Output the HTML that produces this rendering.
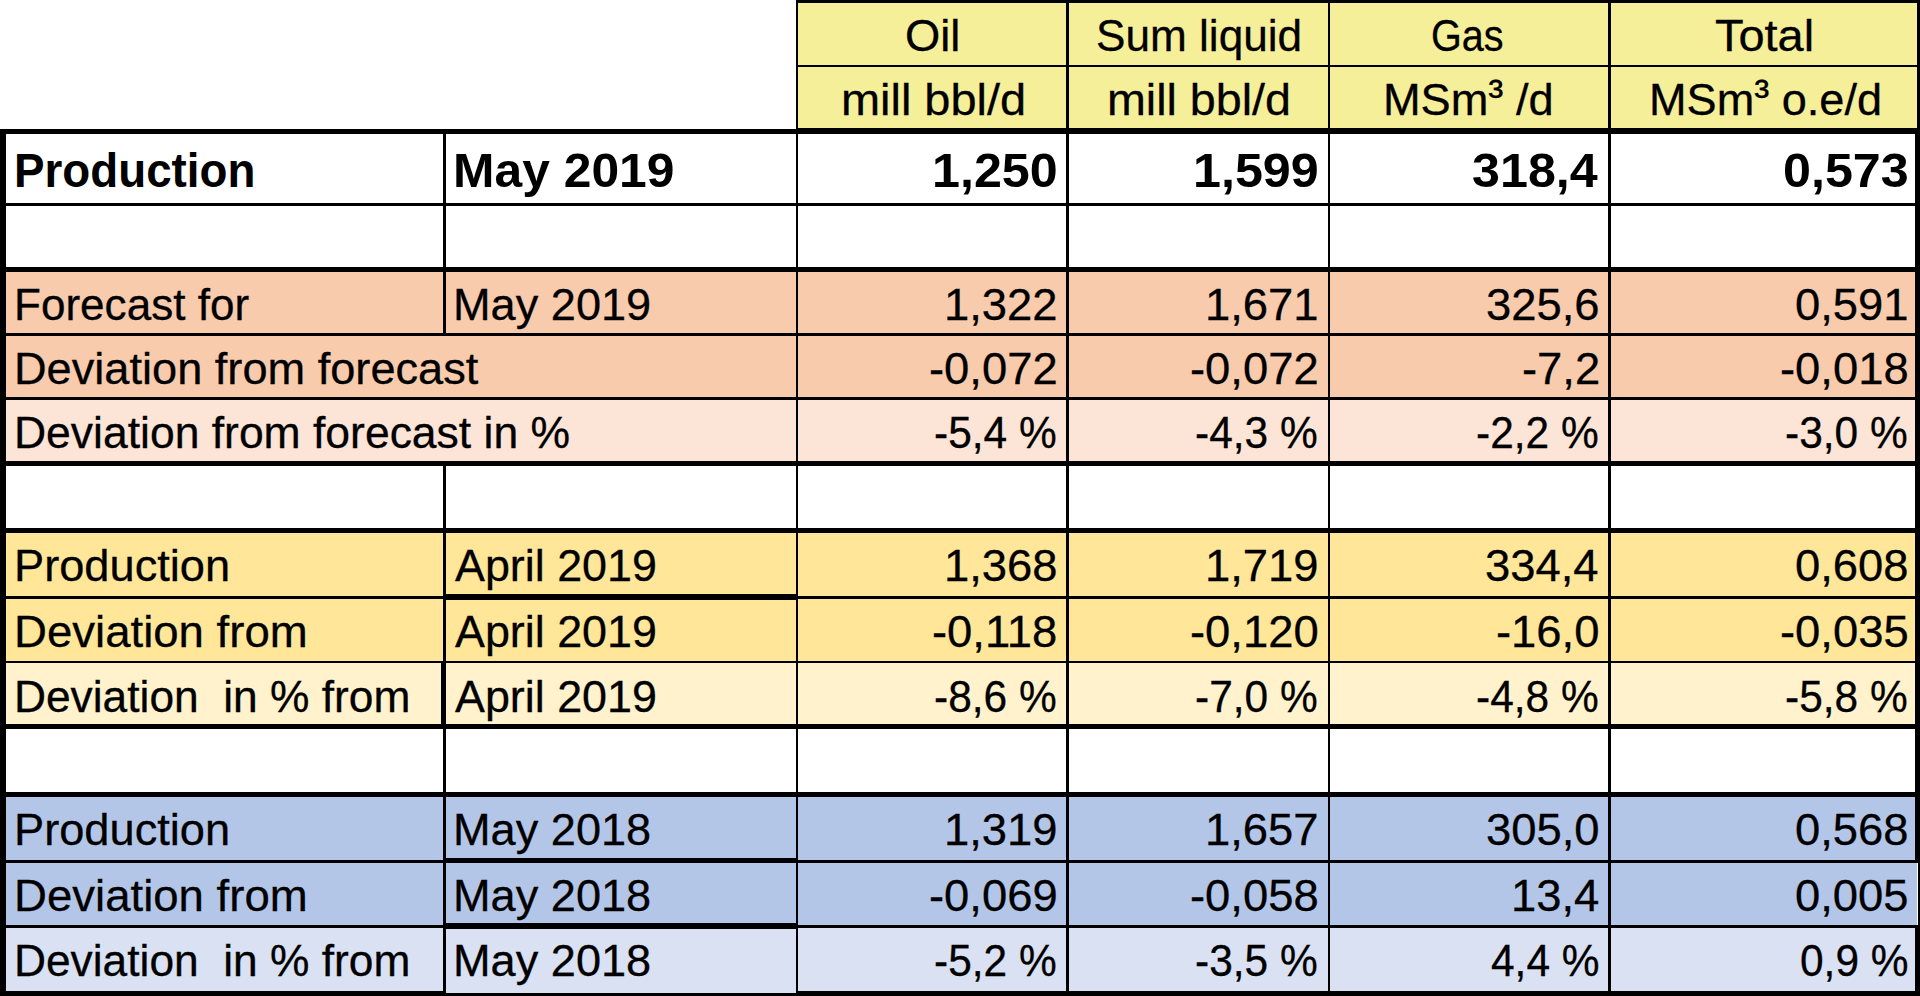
<!DOCTYPE html><html lang="en"><head><meta charset="utf-8"><title>Production table</title><style>

html,body{margin:0;padding:0;background:#fff;}
body{width:1920px;height:996px;overflow:hidden;position:relative;font-family:"Liberation Sans",sans-serif;color:#000;}
.f,.l,.t{position:absolute;}
.l{background:#000;}
.t{white-space:pre;line-height:1;font-size:43.5px;transform-origin:0 0;-webkit-text-stroke:0.3px #000;}
.t.b{font-weight:bold;font-size:47.5px;-webkit-text-stroke:0;}
.s{line-height:0;vertical-align:0.115em;}

</style></head><body>
<div class="f" style="left:797px;top:1px;width:1121px;height:130px;background:#F6EF9A"></div>
<div class="f" style="left:3px;top:270px;width:1914px;height:65px;background:#F8CBAD"></div>
<div class="f" style="left:3px;top:335px;width:1914px;height:63.5px;background:#F8CBAD"></div>
<div class="f" style="left:3px;top:398.5px;width:1914px;height:64.5px;background:#FCE4D6"></div>
<div class="f" style="left:3px;top:531px;width:1914px;height:67px;background:#FFE699"></div>
<div class="f" style="left:3px;top:598px;width:1914px;height:64px;background:#FFE699"></div>
<div class="f" style="left:3px;top:662px;width:1914px;height:65px;background:#FFF2CC"></div>
<div class="f" style="left:3px;top:794px;width:1914px;height:67px;background:#B4C6E7"></div>
<div class="f" style="left:3px;top:861px;width:1914px;height:65px;background:#B4C6E7"></div>
<div class="f" style="left:3px;top:926px;width:1914px;height:68px;background:#D9E1F2"></div>
<div class="l" style="left:795.75px;top:0px;width:1124.25px;height:2.6px"></div>
<div class="l" style="left:795.75px;top:64.6px;width:1124.25px;height:2.8px"></div>
<div class="l" style="left:795.75px;top:127.9px;width:1124.25px;height:3.1px"></div>
<div class="l" style="left:0px;top:129.2px;width:1920px;height:4.6px"></div>
<div class="l" style="left:0px;top:203px;width:1920px;height:2.6px"></div>
<div class="l" style="left:0px;top:267px;width:1920px;height:5px"></div>
<div class="l" style="left:0px;top:333.3px;width:1920px;height:2.7px"></div>
<div class="l" style="left:0px;top:397px;width:1920px;height:2.8px"></div>
<div class="l" style="left:0px;top:461px;width:1920px;height:5px"></div>
<div class="l" style="left:0px;top:528px;width:1920px;height:5px"></div>
<div class="l" style="left:0px;top:596.3px;width:1920px;height:2.9px"></div>
<div class="l" style="left:444px;top:594.3px;width:353px;height:5.5px"></div>
<div class="l" style="left:0px;top:660.5px;width:1920px;height:2.8px"></div>
<div class="l" style="left:0px;top:724.3px;width:1920px;height:5.0px"></div>
<div class="l" style="left:0px;top:791.5px;width:1920px;height:5.0px"></div>
<div class="l" style="left:0px;top:860px;width:1920px;height:2.6px"></div>
<div class="l" style="left:444px;top:857.8px;width:353px;height:5.5px"></div>
<div class="l" style="left:0px;top:925px;width:1920px;height:2.6px"></div>
<div class="l" style="left:444px;top:922.8px;width:353px;height:6.2px"></div>
<div class="l" style="left:0px;top:990.7px;width:445px;height:5.3px"></div>
<div class="l" style="left:445px;top:993px;width:352px;height:3px"></div>
<div class="l" style="left:797px;top:990.7px;width:1123px;height:5.3px"></div>
<div class="l" style="left:0px;top:129.2px;width:5.6px;height:866.8px"></div>
<div class="l" style="left:1915px;top:129.2px;width:5px;height:732.8px"></div>
<div class="l" style="left:1917.5px;top:862px;width:2.5px;height:64px"></div>
<div class="l" style="left:1915px;top:926px;width:5px;height:70px"></div>
<div class="l" style="left:1917.2px;top:0px;width:2.8px;height:131px"></div>
<div class="l" style="left:443.0px;top:131px;width:2.6px;height:139px"></div>
<div class="l" style="left:443.0px;top:270px;width:2.6px;height:65px"></div>
<div class="l" style="left:443.0px;top:463px;width:2.6px;height:68px"></div>
<div class="l" style="left:443.0px;top:531px;width:2.6px;height:196px"></div>
<div class="l" style="left:443.0px;top:727px;width:2.6px;height:67px"></div>
<div class="l" style="left:443.0px;top:794px;width:2.6px;height:200px"></div>
<div class="l" style="left:440.5px;top:662px;width:4.8px;height:65px"></div>
<div class="l" style="left:795.65px;top:0px;width:2.8px;height:996px"></div>
<div class="l" style="left:1066.2px;top:0px;width:2.8px;height:996px"></div>
<div class="l" style="left:1327.5px;top:0px;width:2.8px;height:996px"></div>
<div class="l" style="left:1608.1px;top:0px;width:2.8px;height:996px"></div>
<div class="t" style="left:904.92px;top:15.00px;transform:scaleX(1.0408)">Oil</div>
<div class="t" style="left:1095.97px;top:15.00px;transform:scaleX(1.0151)">Sum liquid</div>
<div class="t" style="left:1431.18px;top:15.00px;transform:scaleX(0.9092)">Gas</div>
<div class="t" style="left:1715.19px;top:15.00px;transform:scaleX(1.0787)">Total</div>
<div class="t" style="left:840.57px;top:79.00px;transform:scaleX(1.0779)">mill bbl/d</div>
<div class="t" style="left:1106.85px;top:79.00px;transform:scaleX(1.0719)">mill bbl/d</div>
<div class="t" style="left:1383.14px;top:79.00px;transform:scaleX(1.0378)">MSm<span class="s">³</span> /d</div>
<div class="t" style="left:1648.89px;top:79.00px;transform:scaleX(1.0364)">MSm<span class="s">³</span> o.e/d</div>
<div class="t b" style="left:14.11px;top:147.00px;transform:scaleX(0.9633)">Production</div>
<div class="t b" style="left:453.12px;top:147.00px;transform:scaleX(1.0483)">May 2019</div>
<div class="t" style="left:13.96px;top:284.00px;transform:scaleX(1.0131)">Forecast for</div>
<div class="t" style="left:453.15px;top:284.00px;transform:scaleX(1.0374)">May 2019</div>
<div class="t" style="left:13.89px;top:348.00px;transform:scaleX(1.0382)">Deviation from forecast</div>
<div class="t" style="left:13.93px;top:412.00px;transform:scaleX(1.0222)">Deviation from forecast in %</div>
<div class="t" style="left:13.88px;top:545.00px;transform:scaleX(1.0394)">Production</div>
<div class="t" style="left:454.51px;top:545.00px;transform:scaleX(1.0308)">April 2019</div>
<div class="t" style="left:13.86px;top:611.00px;transform:scaleX(1.0473)">Deviation from</div>
<div class="t" style="left:454.51px;top:611.00px;transform:scaleX(1.0308)">April 2019</div>
<div class="t" style="left:13.95px;top:676.00px;transform:scaleX(1.0182)">Deviation  in % from</div>
<div class="t" style="left:454.51px;top:676.00px;transform:scaleX(1.0308)">April 2019</div>
<div class="t" style="left:13.88px;top:809.00px;transform:scaleX(1.0394)">Production</div>
<div class="t" style="left:453.15px;top:809.00px;transform:scaleX(1.0374)">May 2018</div>
<div class="t" style="left:13.86px;top:875.00px;transform:scaleX(1.0473)">Deviation from</div>
<div class="t" style="left:453.15px;top:875.00px;transform:scaleX(1.0374)">May 2018</div>
<div class="t" style="left:13.95px;top:940.00px;transform:scaleX(1.0182)">Deviation  in % from</div>
<div class="t" style="left:453.15px;top:940.00px;transform:scaleX(1.0374)">May 2018</div>
<div class="t b" style="left:931.50px;top:147.00px;transform:scaleX(1.0580)">1,250</div>
<div class="t b" style="left:1193.00px;top:147.00px;transform:scaleX(1.0580)">1,599</div>
<div class="t b" style="left:1472.00px;top:147.00px;transform:scaleX(1.0580)">318,4</div>
<div class="t b" style="left:1783.00px;top:147.00px;transform:scaleX(1.0580)">0,573</div>
<div class="t" style="left:943.50px;top:284.00px;transform:scaleX(1.0430)">1,322</div>
<div class="t" style="left:1205.00px;top:284.00px;transform:scaleX(1.0430)">1,671</div>
<div class="t" style="left:1486.00px;top:284.00px;transform:scaleX(1.0430)">325,6</div>
<div class="t" style="left:1795.00px;top:284.00px;transform:scaleX(1.0430)">0,591</div>
<div class="t" style="left:928.50px;top:348.00px;transform:scaleX(1.0430)">-0,072</div>
<div class="t" style="left:1190.00px;top:348.00px;transform:scaleX(1.0430)">-0,072</div>
<div class="t" style="left:1522.00px;top:348.00px;transform:scaleX(1.0430)">-7,2</div>
<div class="t" style="left:1780.00px;top:348.00px;transform:scaleX(1.0430)">-0,018</div>
<div class="t" style="left:933.50px;top:412.00px;transform:scaleX(0.9760)">-5,4 %</div>
<div class="t" style="left:1195.00px;top:412.00px;transform:scaleX(0.9760)">-4,3 %</div>
<div class="t" style="left:1476.00px;top:412.00px;transform:scaleX(0.9760)">-2,2 %</div>
<div class="t" style="left:1785.00px;top:412.00px;transform:scaleX(0.9760)">-3,0 %</div>
<div class="t" style="left:943.50px;top:545.00px;transform:scaleX(1.0430)">1,368</div>
<div class="t" style="left:1205.00px;top:545.00px;transform:scaleX(1.0430)">1,719</div>
<div class="t" style="left:1485.00px;top:545.00px;transform:scaleX(1.0430)">334,4</div>
<div class="t" style="left:1795.00px;top:545.00px;transform:scaleX(1.0430)">0,608</div>
<div class="t" style="left:931.50px;top:611.00px;transform:scaleX(1.0430)">-0,118</div>
<div class="t" style="left:1190.00px;top:611.00px;transform:scaleX(1.0430)">-0,120</div>
<div class="t" style="left:1496.00px;top:611.00px;transform:scaleX(1.0430)">-16,0</div>
<div class="t" style="left:1780.00px;top:611.00px;transform:scaleX(1.0430)">-0,035</div>
<div class="t" style="left:933.50px;top:676.00px;transform:scaleX(0.9760)">-8,6 %</div>
<div class="t" style="left:1195.00px;top:676.00px;transform:scaleX(0.9760)">-7,0 %</div>
<div class="t" style="left:1476.00px;top:676.00px;transform:scaleX(0.9760)">-4,8 %</div>
<div class="t" style="left:1785.00px;top:676.00px;transform:scaleX(0.9760)">-5,8 %</div>
<div class="t" style="left:943.50px;top:809.00px;transform:scaleX(1.0430)">1,319</div>
<div class="t" style="left:1205.00px;top:809.00px;transform:scaleX(1.0430)">1,657</div>
<div class="t" style="left:1486.00px;top:809.00px;transform:scaleX(1.0430)">305,0</div>
<div class="t" style="left:1795.00px;top:809.00px;transform:scaleX(1.0430)">0,568</div>
<div class="t" style="left:928.50px;top:875.00px;transform:scaleX(1.0430)">-0,069</div>
<div class="t" style="left:1190.00px;top:875.00px;transform:scaleX(1.0430)">-0,058</div>
<div class="t" style="left:1511.00px;top:875.00px;transform:scaleX(1.0430)">13,4</div>
<div class="t" style="left:1795.00px;top:875.00px;transform:scaleX(1.0430)">0,005</div>
<div class="t" style="left:933.50px;top:940.00px;transform:scaleX(0.9760)">-5,2 %</div>
<div class="t" style="left:1195.00px;top:940.00px;transform:scaleX(0.9760)">-3,5 %</div>
<div class="t" style="left:1491.00px;top:940.00px;transform:scaleX(0.9760)">4,4 %</div>
<div class="t" style="left:1800.00px;top:940.00px;transform:scaleX(0.9760)">0,9 %</div>
</body></html>
